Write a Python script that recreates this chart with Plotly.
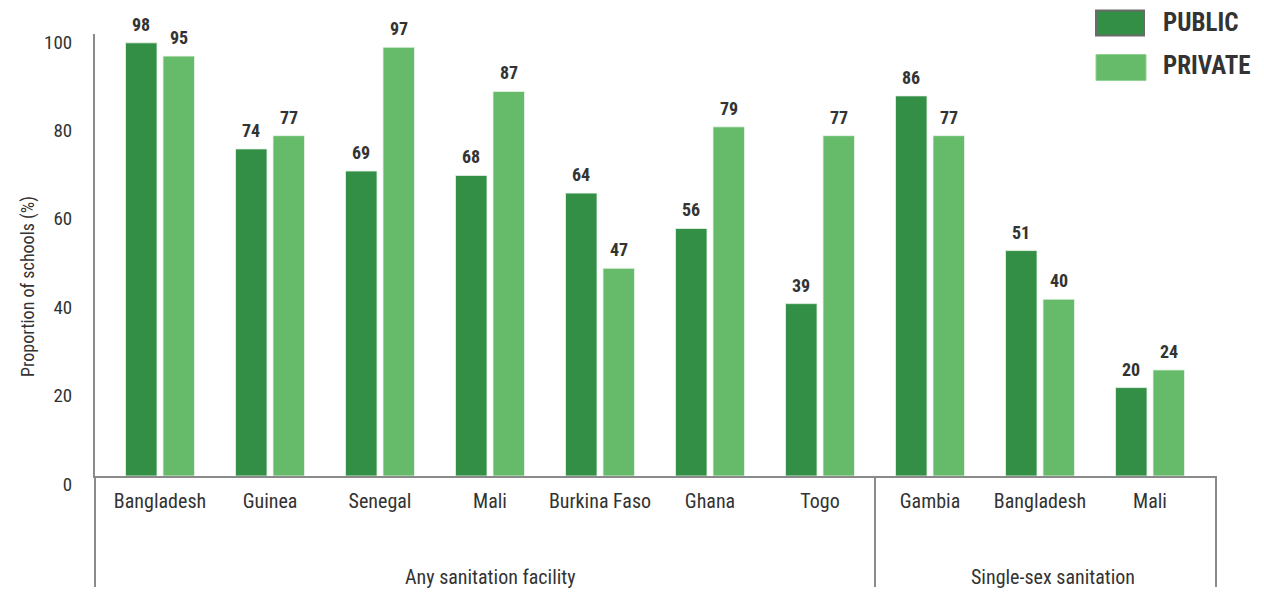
import plotly.graph_objects as go

# School sanitation by country, public vs private schools
countries = ["Bangladesh", "Guinea", "Senegal", "Mali", "Burkina Faso", "Ghana", "Togo",
             "Gambia", "Bangladesh", "Mali"]
public = [98, 74, 69, 68, 64, 56, 39, 86, 51, 20]
private = [95, 77, 97, 87, 47, 79, 77, 77, 40, 24]
groups = ["Any sanitation facility", "Single-sex sanitation"]
group_sizes = [7, 3]
y_ticks = [0, 20, 40, 60, 80, 100]

DARK = "#338f45"
LIGHT = "#66bb6a"
TEXT = "#333333"
AXIS = "#8a8a8a"
FONT = "Roboto Condensed, Liberation Sans Narrow, DejaVu Sans Condensed, sans-serif"

W, H = 1264, 592
ML, MR, MT, MB = 95, 48, 34, 116
PW, PH = W - ML - MR, H - MT - MB
PX_PER_CAT = 110.0
x_lo = -(160 - ML) / PX_PER_CAT
x_hi = x_lo + PW / PX_PER_CAT


def paper_x(px):
    return (px - ML) / PW


def paper_y(py):
    return (H - MB - py) / PH


idx = list(range(len(countries)))

fig = go.Figure()
fig.add_trace(go.Bar(x=idx, y=public, name="PUBLIC", marker_color=DARK,
                     marker_line=dict(color="rgba(235,245,235,0.8)", width=1),
                     showlegend=False))
fig.add_trace(go.Bar(x=idx, y=private, name="PRIVATE", marker_color=LIGHT,
                     marker_line=dict(color="rgba(235,245,235,0.8)", width=1),
                     showlegend=False))

# value labels above each bar
half_slot = PX_PER_CAT * (1 - 0.318) / 4
annotations = []
for i in idx:
    for vals, sh in ((public, -half_slot), (private, half_slot)):
        annotations.append(dict(x=i, y=vals[i], xref="x", yref="y", text=f"<b>{vals[i]}</b>",
                                showarrow=False, xshift=sh, yshift=6, yanchor="bottom",
                                font=dict(family=FONT, size=18, color=TEXT)))

# group labels under the category names
start = 0
group_centers = []
for g, n in zip(groups, group_sizes):
    group_centers.append(start + (n - 1) / 2)
    start += n
group_centers[-1] += 0.12
for g, c in zip(groups, group_centers):
    annotations.append(dict(x=c, y=paper_y(577), xref="x", yref="paper", text=g,
                            showarrow=False, yanchor="middle",
                            font=dict(family=FONT, size=20, color=TEXT)))

# y axis title
annotations.append(dict(x=paper_x(28), y=paper_y(287), xref="paper", yref="paper",
                        text="Proportion of schools (%)", textangle=-90, showarrow=False,
                        xanchor="center", yanchor="middle",
                        font=dict(family=FONT, size=18, color=TEXT)))

# legend text
for label, py in (("PUBLIC", 22.7), ("PRIVATE", 66)):
    annotations.append(dict(x=paper_x(1161), y=paper_y(py), xref="paper", yref="paper",
                            text=f"<b>{label}</b>", showarrow=False, xanchor="left",
                            yanchor="middle", font=dict(family=FONT, size=25, color=TEXT)))

shapes = []
# group separators and frame below the axis
bottom = paper_y(587)
shapes.append(dict(type="line", xref="paper", yref="paper", x0=0, x1=0, y0=0, y1=bottom,
                   line=dict(color=AXIS, width=2)))
sep = group_sizes[0] - 0.5
shapes.append(dict(type="line", xref="x", yref="paper", x0=sep, x1=sep, y0=0, y1=bottom,
                   line=dict(color=AXIS, width=2)))
shapes.append(dict(type="line", xref="paper", yref="paper", x0=1, x1=1, y0=0, y1=bottom,
                   line=dict(color=AXIS, width=2)))

# legend swatches
shapes.append(dict(type="rect", xref="paper", yref="paper",
                   x0=paper_x(1096), x1=paper_x(1144), y0=paper_y(35.5), y1=paper_y(10.5),
                   fillcolor=DARK, line=dict(color="#6a6a6a", width=2)))
shapes.append(dict(type="rect", xref="paper", yref="paper",
                   x0=paper_x(1096), x1=paper_x(1146), y0=paper_y(80.5), y1=paper_y(54.5),
                   fillcolor=LIGHT, line=dict(color="#8fd493", width=1)))

fig.update_layout(
    width=W, height=H, autosize=False,
    margin=dict(l=ML, r=MR, t=MT, b=MB, pad=0),
    paper_bgcolor="white", plot_bgcolor="white",
    barmode="group", bargap=0.318, bargroupgap=0.16,
    font=dict(family=FONT, color=TEXT),
    annotations=annotations, shapes=shapes,
    xaxis=dict(range=[x_lo, x_hi], tickmode="array", tickvals=idx, ticktext=countries,
               showgrid=False, zeroline=False, showline=True, linecolor=AXIS, linewidth=2,
               ticks="", tickfont=dict(family=FONT, size=20, color=TEXT),
               ticklabelstandoff=6),
    yaxis=dict(range=[0, 100], tickmode="array", tickvals=y_ticks, showgrid=False,
               zeroline=False, showline=True, linecolor=AXIS, linewidth=2, ticks="",
               tickfont=dict(family=FONT, size=19, color=TEXT),
               ticklabelshift=8, ticklabelstandoff=17),
)

fig.write_html("out.html")
